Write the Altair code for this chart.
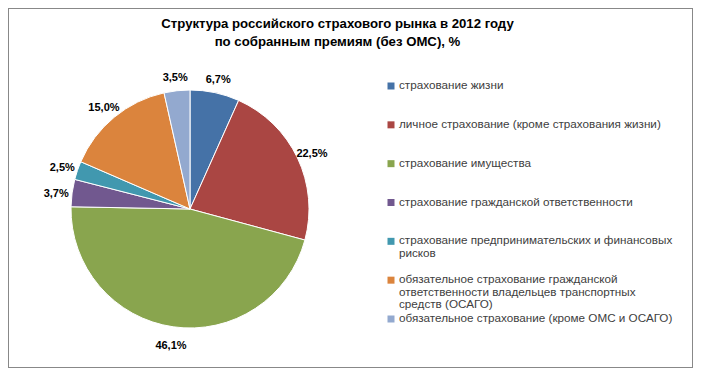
import math
import textwrap
import altair as alt
import pandas as pd

categories = [
    "страхование жизни",
    "личное страхование (кроме страхования жизни)",
    "страхование имущества",
    "страхование гражданской ответственности",
    "страхование предпринимательских и финансовых рисков",
    "обязательное страхование гражданской ответственности владельцев транспортных средств (ОСАГО)",
    "обязательное страхование (кроме ОМС и ОСАГО)",
]
shares = [6.7, 22.5, 46.1, 3.7, 2.5, 15.0, 3.5]
labels = ["6,7%", "22,5%", "46,1%", "3,7%", "2,5%", "15,0%", "3,5%"]
colors = ["#4572A7", "#AA4643", "#89A54E", "#71588F", "#4198AF", "#DB843D", "#93A9CF"]
title_lines = [
    "Структура  российского страхового рынка в 2012 году",
    "по собранным премиям (без ОМС), %",
]

df = pd.DataFrame({
    "category": categories,
    "share": shares,
    "label": labels,
    "idx": list(range(len(categories))),
    "wrapped": ["\n".join(textwrap.wrap(c, 45)) for c in categories],
})

FONT = "Liberation Sans"
CX, CY, R = 182, 201, 119

color = alt.Color("category:N", scale=alt.Scale(domain=categories, range=colors), legend=None)
theta = alt.Theta("share:Q", stack=True)
order = alt.Order("idx:Q")

base = alt.Chart(df)

pie = base.mark_arc(radius=R, stroke="white", strokeWidth=1).encode(
    theta=theta, order=order, color=color,
    x=alt.value(CX), y=alt.value(CY),
)

pct = base.mark_text(radius=135, fontSize=11, fontWeight="bold", font=FONT, color="black", dy=3).encode(
    theta=theta, order=order, text="label:N",
    x=alt.value(CX), y=alt.value(CY),
)

leg_y = alt.Y("category:N", sort=categories, axis=None,
              scale=alt.Scale(domain=categories, range=[78, 311], padding=0))

leg_sym = base.mark_square(size=49, opacity=1).encode(
    y=leg_y, color=color, x=alt.value(383),
)

leg_txt = base.mark_text(align="left", baseline="top", dy=-6, lineBreak="\n", lineHeight=12.5,
                         fontSize=11.7, font=FONT, color="#404040").encode(
    y=leg_y, text="wrapped:N", x=alt.value(391),
)

chart = alt.layer(pie, pct, leg_sym, leg_txt).properties(
    width=685, height=360,
    autosize=alt.AutoSizeParams(type="none"),
    padding=0,
    title=alt.TitleParams(
        text=title_lines, font=FONT, fontSize=13.2, fontWeight="bold", color="black",
        anchor="middle", frame="group", baseline="top", offset=-41, dx=-13, lineHeight=18,
    ),
).configure_view(stroke="#888888", strokeWidth=2)

chart.save("out.html", embed_options={"renderer": "svg", "actions": False})
